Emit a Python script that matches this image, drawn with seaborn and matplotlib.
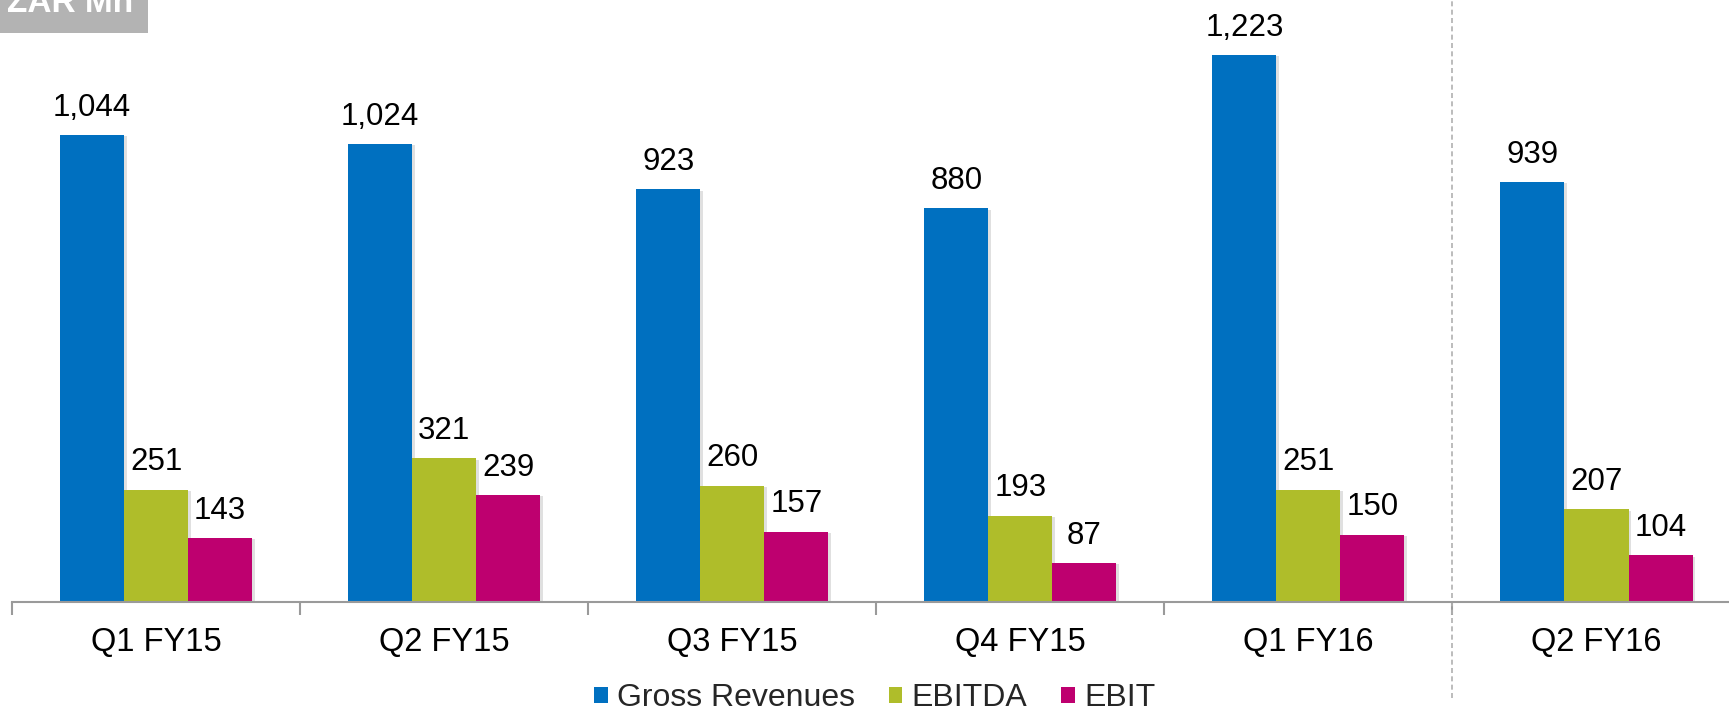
import matplotlib
matplotlib.use("Agg")
import matplotlib.pyplot as plt
import matplotlib.patheffects as pe
from matplotlib.patches import Rectangle
import seaborn as sns
import pandas as pd
import numpy as np

quarters = ["Q1 FY15", "Q2 FY15", "Q3 FY15", "Q4 FY15", "Q1 FY16", "Q2 FY16"]
gross_revenues = [1044, 1024, 923, 880, 1223, 939]
ebitda = [251, 321, 260, 193, 251, 207]
ebit = [143, 239, 157, 87, 150, 104]
series_names = ["Gross Revenues", "EBITDA", "EBIT"]
colors = ["#0070C0", "#AFBD2A", "#BE006F"]

df = pd.DataFrame({
    "Quarter": quarters * 3,
    "Metric": [s for s in series_names for _ in quarters],
    "Value": gross_revenues + ebitda + ebit,
})

sns.set_theme(style="white")
plt.rcParams["font.family"] = ["Liberation Sans", "DejaVu Sans"]

W, H = 1729, 714
fig = plt.figure(figsize=(W / 100, H / 100), dpi=100)
ax = fig.add_axes([12 / W, 112 / H, (W - 12) / W, 602 / H])

sns.barplot(data=df, x="Quarter", y="Value", hue="Metric", order=quarters,
            hue_order=series_names, palette=colors, width=0.667, gap=0,
            saturation=1, ax=ax, linewidth=0)

shadow = [pe.SimplePatchShadow(offset=(2, -1), shadow_rgbFace="#000000", alpha=0.12),
          pe.Normal()]
for cont in ax.containers:
    for bar in cont:
        bar.set_path_effects(shadow)
    ax.bar_label(cont, labels=[f"{int(v):,}" for v in cont.datavalues],
                 padding=9, fontsize=22.5, color="black")

ax.set_xlim(-0.5, 5.46)
ax.set_ylim(0, 1346)
ax.set_xlabel("")
ax.set_ylabel("")
ax.set_yticks([])
for side in ["top", "right", "left"]:
    ax.spines[side].set_visible(False)
ax.spines["bottom"].set_color("#9a9a9a")
ax.spines["bottom"].set_linewidth(1.5)

ax.tick_params(axis="x", which="major", bottom=False, length=0, labelsize=23.5,
               pad=18, colors="black")
ax.set_xticks(np.arange(-0.5, 5.0, 1.0), minor=True)
ax.tick_params(axis="x", which="minor", bottom=True, length=9, width=1.5,
               color="#9a9a9a", direction="out")

# divider between the two fiscal years
ax.axvline(4.5, ymin=-0.16, ymax=1.0, color="#b0b0b0", linestyle=(0, (3, 2)),
           linewidth=1.2, clip_on=False)

sns.move_legend(ax, "center", bbox_to_anchor=(0.506, 0.022),
                bbox_transform=fig.transFigure, ncol=3, frameon=False, title=None,
                fontsize=23, handlelength=0.42, handleheight=0.42, handletextpad=0.3,
                columnspacing=1.05)

# unit tag in the top-left corner
fig.patches.append(Rectangle((0, 1 - 33 / H), 148 / W, 33 / H, transform=fig.transFigure,
                             facecolor="#b3b3b3", edgecolor="none", zorder=5))
fig.text(7 / W, 1 - 4 / H, "ZAR Mn", color="white", fontsize=24, fontweight="bold",
         va="center", ha="left", zorder=6)

fig.savefig("out.png", dpi=100)
